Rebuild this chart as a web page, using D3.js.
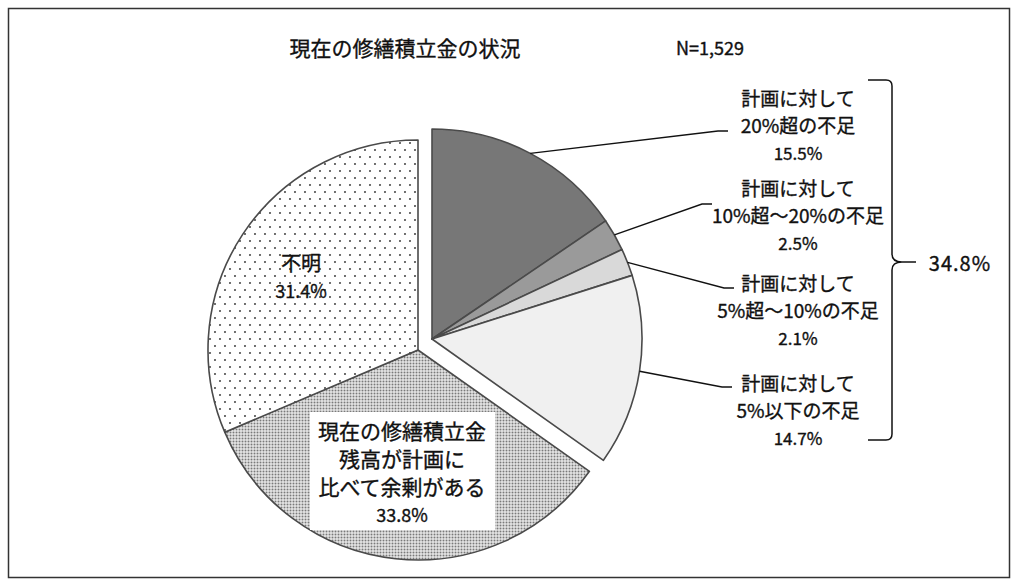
<!DOCTYPE html>
<html><head><meta charset="utf-8">
<script src="https://cdn.jsdelivr.net/npm/d3@7"></script>
<style>
html,body{margin:0;padding:0;background:#fff;}
text{font-family:"Noto Sans CJK JP","Noto Sans",sans-serif;fill:#111;stroke:#111;stroke-width:0.35px;}
</style></head>
<body>
<svg id="c" width="1024" height="588"></svg>
<script>
// ---- data ----
const categories = [
  ["計画に対して","20%超の不足"],
  ["計画に対して","10%超～20%の不足"],
  ["計画に対して","5%超～10%の不足"],
  ["計画に対して","5%以下の不足"],
  ["現在の修繕積立金","残高が計画に","比べて余剰がある"],
  ["不明"]
];
const values = [15.5, 2.5, 2.1, 14.7, 33.8, 31.4];
const shortageGroup = [true, true, true, true, false, false];
const totalShortage = "34.8%";
const title = "現在の修繕積立金の状況";
const nLabel = "N=1,529";

// ---- layout ----
const cx = 418, cy = 350, R = 210;
const explode = [14, -11];
const fills = ["#777777", "#9a9a9a", "#d9d9d9", "#f0f0f0", "url(#dense)", "url(#sparse)"];
const outside = [
  {x: 798, y: 97, ex: 718, ey: 131},
  {x: 798, y: 187, ex: 702, ey: 204},
  {x: 798, y: 282, ex: 724, ey: 288},
  {x: 798, y: 382, ex: 722, ey: 387}
];
const inside = [null, null, null, null, {x: 402, y: 430, fs: 21}, {x: 301, y: 262, fs: 20}];

const svg = d3.select("#c");
const defs = svg.append("defs");
const pd = defs.append("pattern").attr("id","dense").attr("patternUnits","userSpaceOnUse")
  .attr("width",3).attr("height",3);
pd.append("rect").attr("width",3).attr("height",3).attr("fill","#fff");
pd.append("rect").attr("x",0.5).attr("y",0.5).attr("width",2).attr("height",2).attr("fill","#7a7a7a");
const ps = defs.append("pattern").attr("id","sparse").attr("patternUnits","userSpaceOnUse")
  .attr("width",10).attr("height",14);
ps.append("rect").attr("width",10).attr("height",14).attr("fill","#fff");
ps.append("circle").attr("cx",2).attr("cy",3).attr("r",1.05).attr("fill","#4a4a4a");
ps.append("circle").attr("cx",7).attr("cy",10).attr("r",1.05).attr("fill","#4a4a4a");

// frame
svg.append("rect").attr("x",8.5).attr("y",8.5).attr("width",1001).attr("height",569)
  .attr("fill","none").attr("stroke","#333").attr("stroke-width",1.5);

svg.append("text").attr("x",405).attr("y",47).attr("text-anchor","middle")
  .attr("dominant-baseline","central").attr("font-size",21).text(title);
svg.append("text").attr("x",710).attr("y",47).attr("text-anchor","middle")
  .attr("dominant-baseline","central").attr("font-size",18).text(nLabel);

const pie = d3.pie().sort(null).value(d => d)(values);
const arc = d3.arc().innerRadius(0).outerRadius(R);

const g = svg.append("g");
pie.forEach((p, i) => {
  const dx = shortageGroup[i] ? explode[0] : 0;
  const dy = shortageGroup[i] ? explode[1] : 0;
  g.append("path").attr("d", arc(p))
    .attr("transform", `translate(${cx+dx},${cy+dy})`)
    .attr("fill", fills[i]).attr("stroke","#4a4a4a").attr("stroke-width",1.6)
    .attr("stroke-linejoin","round");
});

pie.forEach((p, i) => {
  if (!outside[i]) return;
  const o = outside[i];
  const a = (p.startAngle + p.endAngle) / 2;
  const sx = cx + explode[0] + Math.sin(a) * R;
  const sy = cy + explode[1] - Math.cos(a) * R;
  svg.append("polyline")
    .attr("points", `${sx},${sy} ${o.ex},${o.ey} ${o.ex+10},${o.ey}`)
    .attr("fill","none").attr("stroke","#111").attr("stroke-width",1.4);
  const lines = categories[i].concat([values[i].toFixed(1) + "%"]);
  lines.forEach((t, k) => {
    svg.append("text").attr("x", o.x).attr("y", o.y + k * 27.5)
      .attr("text-anchor","middle").attr("dominant-baseline","central")
      .attr("font-size", k === lines.length - 1 ? 17 : 19).text(t);
  });
});

pie.forEach((p, i) => {
  if (!inside[i]) return;
  const o = inside[i];
  const lines = categories[i].concat([values[i].toFixed(1) + "%"]);
  if (i === 4) {
    svg.append("rect").attr("x",310).attr("y",412).attr("width",185).attr("height",118)
      .attr("fill","#fff");
  }
  lines.forEach((t, k) => {
    svg.append("text").attr("x", o.x).attr("y", o.y + k * 28)
      .attr("text-anchor","middle").attr("dominant-baseline","central")
      .attr("font-size", k === lines.length - 1 ? 18 : o.fs).text(t);
  });
});

// brace
const bx = 868, bTop = 80, bBot = 440, bMid = 262;
const brace = `M${bx},${bTop} L${bx+18},${bTop} Q${bx+24},${bTop} ${bx+24},${bTop+6} L${bx+24},${bMid-8} Q${bx+24},${bMid} ${bx+34},${bMid} L${bx+48},${bMid} M${bx+34},${bMid} Q${bx+24},${bMid} ${bx+24},${bMid+8} L${bx+24},${bBot-6} Q${bx+24},${bBot} ${bx+18},${bBot} L${bx},${bBot}`;
svg.append("path").attr("d", brace).attr("fill","none").attr("stroke","#111").attr("stroke-width",1.5);
svg.append("text").attr("x",960).attr("y",bMid).attr("text-anchor","middle")
  .attr("dominant-baseline","central").attr("font-size",20).attr("letter-spacing",1).text(totalShortage);
</script>
</body></html>
